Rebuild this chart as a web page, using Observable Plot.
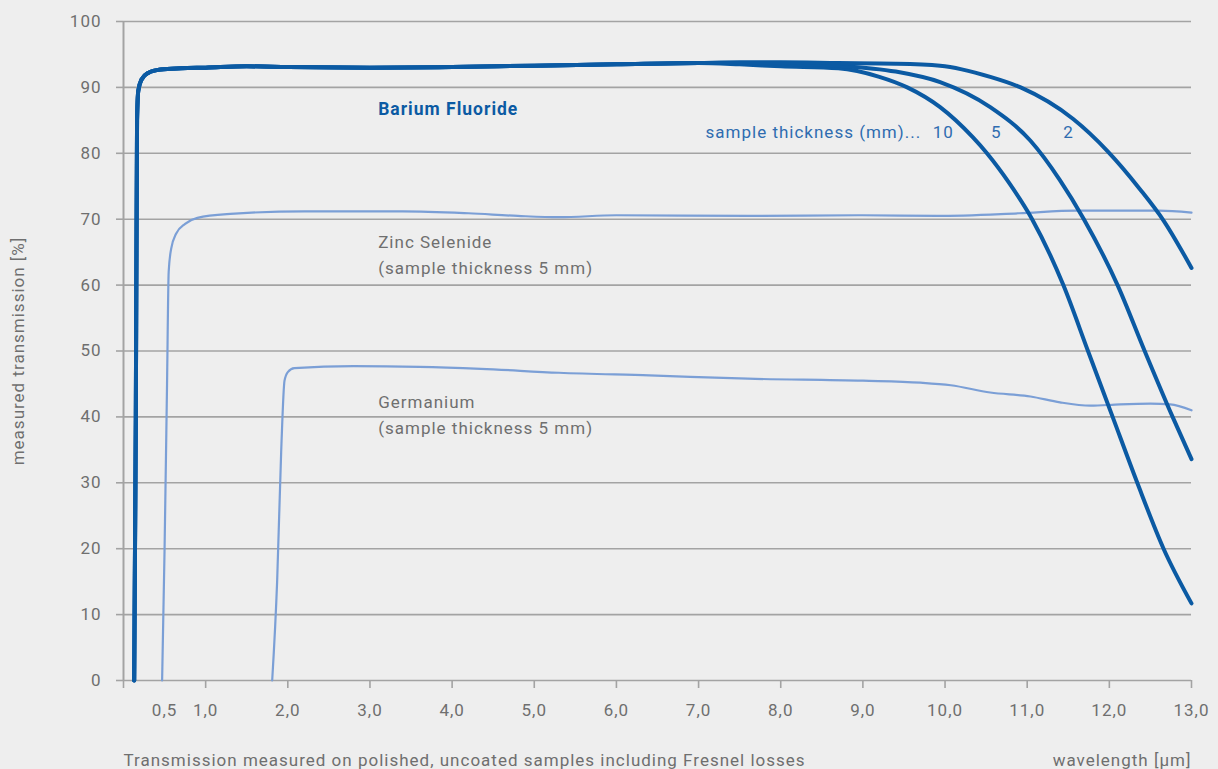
<!DOCTYPE html>
<html>
<head>
<meta charset="utf-8">
<script src="https://cdn.jsdelivr.net/npm/d3@7"></script>
<script src="https://cdn.jsdelivr.net/npm/@observablehq/plot@0.6"></script>
<style>
  html, body { margin: 0; padding: 0; background: #eeeeee; }
  #chart svg { display: block; }
</style>
</head>
<body>
<div id="chart"></div>
<script>
// ---- data (wavelength µm, transmission %) ----
const baf2_2mm = [[0.13,0],[0.15,40],[0.165,85],[0.18,89.5],[0.22,91.2],[0.3,92.2],[0.45,92.7],[0.7,92.9],[1.0,93.0],[1.5,93.2],[2.0,93.1],[3.0,93.0],[4.0,93.1],[5.0,93.3],[6.0,93.5],[7.0,93.7],[7.5,93.8],[8.0,93.8],[8.7,93.7],[9.4,93.6],[9.94,93.3],[10.55,91.6],[10.92,90.0],[11.56,85.2],[11.98,80.3],[12.37,74.6],[12.66,69.8],[13.0,62.6]];
const baf2_5mm = [[0.13,0],[0.15,40],[0.165,85],[0.18,89.5],[0.22,91.2],[0.3,92.2],[0.45,92.7],[0.7,92.9],[1.0,93.0],[1.5,93.2],[2.0,93.1],[3.0,93.0],[4.0,93.1],[5.0,93.3],[6.0,93.5],[7.0,93.7],[7.5,93.7],[8.0,93.6],[8.7,93.3],[9.4,92.4],[9.94,90.8],[10.55,87.0],[11.04,81.9],[11.4,75.9],[11.69,70.0],[12.1,60.0],[12.43,50.0],[12.77,40.0],[13.0,33.6]];
const baf2_10mm = [[0.13,0],[0.15,40],[0.165,85],[0.18,89.5],[0.22,91.2],[0.3,92.2],[0.45,92.7],[0.7,92.9],[1.0,93.0],[1.5,93.2],[2.0,93.1],[3.0,93.0],[4.0,93.1],[5.0,93.3],[6.0,93.5],[7.0,93.7],[7.5,93.5],[8.0,93.2],[8.7,92.9],[9.2,91.6],[9.54,90.0],[9.94,87.0],[10.34,82.4],[10.51,80.0],[10.78,75.5],[11.06,70.0],[11.44,60.0],[11.74,50.0],[12.04,40.0],[12.34,30.0],[12.66,20.0],[13.0,11.7]];
const znse_5mm = [[0.47,0],[0.5,20],[0.53,45],[0.55,62],[0.58,65.5],[0.64,67.8],[0.75,69.3],[0.9,70.2],[1.3,70.8],[2.2,71.2],[3.4,71.2],[4.2,70.9],[4.8,70.5],[5.3,70.3],[6.0,70.6],[7.6,70.5],[9.0,70.6],[9.9,70.5],[10.9,70.9],[11.6,71.3],[12.6,71.3],[13.0,71.0]];
const ge_5mm = [[1.81,0],[1.87,15],[1.92,35],[1.96,45.5],[2.0,46.8],[2.08,47.4],[2.8,47.7],[3.6,47.6],[4.35,47.3],[5.3,46.7],[6.4,46.3],[7.6,45.8],[9.0,45.5],[9.7,45.2],[10.07,44.8],[10.55,43.7],[11.04,43.1],[11.4,42.2],[11.77,41.7],[12.13,41.9],[12.5,42.0],[12.74,41.9],[13.0,41.0]];

const xTicks = [0,1,2,3,4,5,6,7,8,9,10,11,12,13];
const xLabelTicks = [0.5,1,2,3,4,5,6,7,8,9,10,11,12,13];
const yTicks = [0,10,20,30,40,50,60,70,80,90,100];

const DARK = "#0b5aa3";
const LIGHT = "#7b9fd6";
const LABEL_BLUE = "#2f6cb0";
const GRAY_TEXT = "#6f6f6f";
const GRID = "#a3a3a3";
const FONT = "Roboto, 'Open Sans', sans-serif";
const fmt = d => d3.format(".1f")(d).replace(".", ",");

const pts = arr => arr.map(([w, t]) => ({w, t}));

const plot = Plot.plot({
  width: 1218,
  height: 769,
  marginLeft: 123,
  marginRight: 27,
  marginTop: 21,
  marginBottom: 89,
  style: {background: "#eeeeee", fontFamily: FONT, fontSize: "17px", color: GRAY_TEXT, letterSpacing: "1px"},
  x: {domain: [0, 13]},
  y: {domain: [0, 100]},
  marks: [
    // grid lines
    Plot.ruleY(yTicks, {stroke: GRID, strokeWidth: 1.6}),
    Plot.ruleX([0], {stroke: GRID, strokeWidth: 2}),
    // axes
    Plot.axisY({ticks: yTicks, tickSize: 7, tickPadding: 15, stroke: GRID, strokeWidth: 1.6, strokeOpacity: 1,
      fill: GRAY_TEXT, fontSize: 17, label: "measured transmission [%]", labelAnchor: "center", labelArrow: "none", labelOffset: 112}),
    Plot.axisX({ticks: xTicks, tickSize: 8, tickFormat: () => "", stroke: GRID, strokeWidth: 1.6, strokeOpacity: 1, label: null}),
    Plot.axisX({ticks: xLabelTicks, tickSize: 0, tickPadding: 23, tickFormat: fmt, fill: GRAY_TEXT, fontSize: 17, label: null}),
    // curves
    Plot.line(pts(znse_5mm), {x: "w", y: "t", stroke: LIGHT, strokeWidth: 2.2, curve: "monotone-x"}),
    Plot.line(pts(ge_5mm), {x: "w", y: "t", stroke: LIGHT, strokeWidth: 2.2, curve: "monotone-x"}),
    Plot.line(pts(baf2_10mm), {x: "w", y: "t", stroke: DARK, strokeWidth: 4, curve: "monotone-x"}),
    Plot.line(pts(baf2_5mm), {x: "w", y: "t", stroke: DARK, strokeWidth: 4, curve: "monotone-x"}),
    Plot.line(pts(baf2_2mm), {x: "w", y: "t", stroke: DARK, strokeWidth: 4, curve: "monotone-x"}),
    // annotations
    Plot.text(["Barium Fluoride"], {x: 3.1, y: 86.6, text: d => d, textAnchor: "start", fill: DARK, fontWeight: "bold", fontSize: 17.5}),
    Plot.text(["sample thickness (mm)..."], {x: 7.085, y: 83.2, text: d => d, textAnchor: "start", fill: LABEL_BLUE, fontSize: 17}),
    Plot.text(["10"], {x: 9.85, y: 83.2, text: d => d, textAnchor: "start", fill: LABEL_BLUE, fontSize: 17}),
    Plot.text(["5"], {x: 10.56, y: 83.2, text: d => d, textAnchor: "start", fill: LABEL_BLUE, fontSize: 17}),
    Plot.text(["2"], {x: 11.44, y: 83.2, text: d => d, textAnchor: "start", fill: LABEL_BLUE, fontSize: 17}),
    Plot.text(["Zinc Selenide"], {x: 3.1, y: 66.5, text: d => d, textAnchor: "start", fill: GRAY_TEXT, fontSize: 17}),
    Plot.text(["(sample thickness 5 mm)"], {x: 3.1, y: 62.5, text: d => d, textAnchor: "start", fill: GRAY_TEXT, fontSize: 17}),
    Plot.text(["Germanium"], {x: 3.1, y: 42.2, text: d => d, textAnchor: "start", fill: GRAY_TEXT, fontSize: 17}),
    Plot.text(["(sample thickness 5 mm)"], {x: 3.1, y: 38.3, text: d => d, textAnchor: "start", fill: GRAY_TEXT, fontSize: 17}),
    Plot.text(["Transmission measured on polished, uncoated samples including Fresnel losses"],
      {frameAnchor: "bottom-left", dy: 85, text: d => d, textAnchor: "start", fill: GRAY_TEXT, fontSize: 17}),
    Plot.text(["wavelength [µm]"],
      {frameAnchor: "bottom-right", dy: 85, text: d => d, textAnchor: "end", fill: GRAY_TEXT, fontSize: 17})
  ]
});
document.getElementById("chart").appendChild(plot);
</script>
</body>
</html>
